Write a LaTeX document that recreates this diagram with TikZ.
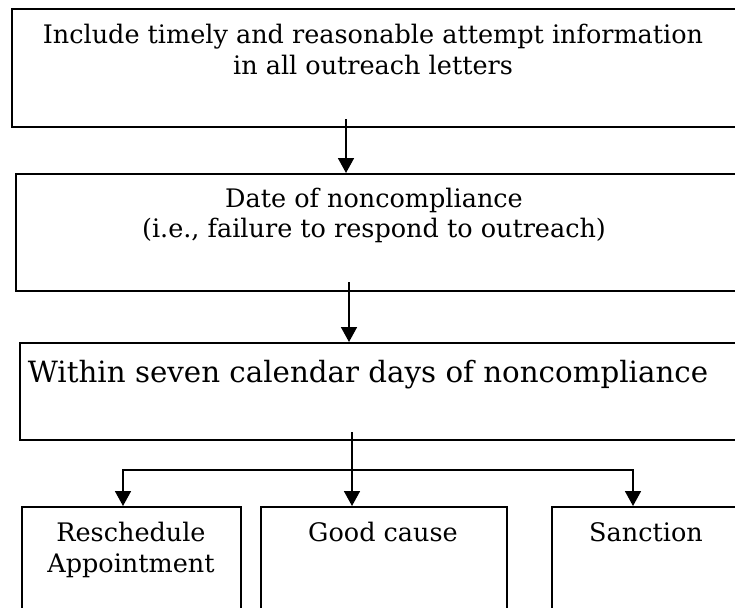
\documentclass[tikz,border=0pt]{standalone}
\usepackage{fontspec}
\setmainfont{DejaVu Serif}
\usetikzlibrary{arrows.meta}
\begin{document}
\begin{tikzpicture}[x=1pt,y=-1pt,
  box/.style={draw, line width=2pt, inner sep=0pt, anchor=north west},
  lbl/.style={align=center, inner sep=0pt, anchor=base, font=\fontsize{25.5}{30.5}\selectfont},
  biglbl/.style={align=center, inner sep=0pt, font=\fontsize{29.3}{32}\selectfont},
  arr/.style={line width=1.7pt, -{Triangle[length=15pt,width=16pt]}},
  arrs/.style={line width=1.7pt, {Triangle[length=15pt,width=16pt]}-{Triangle[length=15pt,width=16pt]}, line join=miter}
]
\useasboundingbox (0,0) rectangle (735,607);
% boxes
\node[box, minimum width=730pt, minimum height=118pt] (b1) at (11,8) {};
\node[box, minimum width=730pt, minimum height=117pt] (b2) at (15,173) {};
\node[box, minimum width=730pt, minimum height=97pt] (b3) at (19,342) {};
\node[box, minimum width=219pt, minimum height=120pt] (b4) at (21,506) {};
\node[box, minimum width=246pt, minimum height=120pt] (b5) at (260,506) {};
\node[box, minimum width=200pt, minimum height=120pt] (b6) at (551,506) {};
% texts (anchor=base is the baseline of the last line)
\node[lbl] (t1) at (373,74.5) {Include timely and reasonable attempt information\\in all outreach letters};
\node[lbl] (t2) at (374,237.5) {Date of noncompliance\\(i.e., failure to respond to outreach)};
\node[biglbl] (t3) at (368,375) {Within seven calendar days of noncompliance};
\node[lbl] (t4) at (131,572) {Reschedule\\Appointment};
\node[lbl] (t5) at (383,541) {Good cause};
\node[lbl] (t6) at (646,541) {Sanction};
% connectors
\coordinate (s1) at (346,119);
\coordinate (s2) at (349,282);
\coordinate (s3) at (352,432);
\coordinate (h1) at (123,470);
\coordinate (h2) at (633,470);
\draw[arr] (s1) -- (s1 |- b2.north);
\draw[arr] (s2) -- (s2 |- b3.north);
\draw[arr] (s3) -- (s3 |- b5.north);
\draw[arrs] (h1 |- b4.north) -- (h1) -- (h2) -- (h2 |- b6.north);
\end{tikzpicture}
\end{document}
